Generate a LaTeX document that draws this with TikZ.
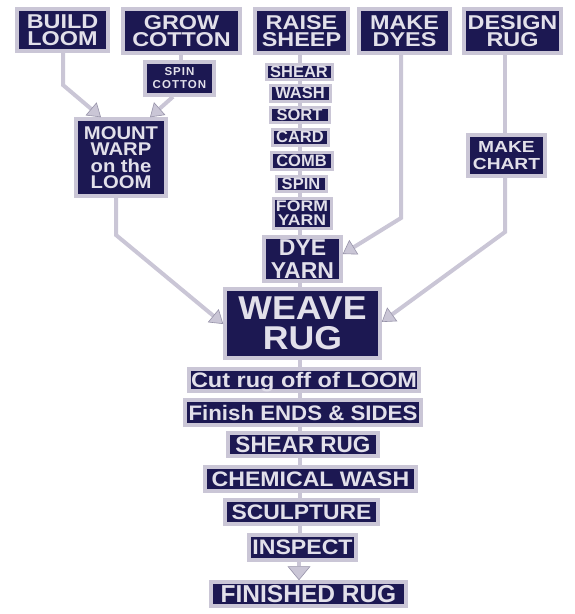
\documentclass[tikz,border=0pt]{standalone}
\usepackage{fontspec}
\setmainfont{Liberation Sans}
\usetikzlibrary{arrows.meta}
\definecolor{navy}{RGB}{28,24,82}
\definecolor{lav}{RGB}{202,198,214}
\definecolor{lavdark}{RGB}{150,146,168}
\definecolor{txt}{RGB}{226,224,234}
\tikzset{
  box/.style={draw=lav, fill=navy, line width=3.5pt, inner sep=0pt, text=txt, align=center},
  link/.style={draw=lav, line width=4pt},
  arr/.style={link, -{Triangle[width=17pt,length=13pt,fill=lav,color=lavdark,line width=0.6pt]}},
}
\newcommand\fs[2]{\fontsize{#1}{#2}\selectfont}
\newcommand\st[1]{\addfontfeatures{FakeStretch=#1}}
% name, x1, y1, x2, y2, font, text
\newcommand\bnode[7]{\node[box, font={\bfseries#6}, minimum width={#4-#2}, minimum height={#5-#3}] (#1) at ({(#2+#4)/2},{(#3+#5)/2}) {#7};}
\begin{document}
\begin{tikzpicture}[x=1pt,y=-1pt]
\useasboundingbox (0,0) rectangle (575,614);
% top row
\bnode{build}{17}{9}{108}{51}{\fs{20}{17.5}\st{1.17}}{BUILD\\LOOM}
\bnode{grow}{123}{9}{240}{53}{\fs{20}{17.5}\st{1.17}}{GROW\\COTTON}
\bnode{raise}{255}{9}{348}{53}{\fs{20}{17.5}\st{1.17}}{RAISE\\SHEEP}
\bnode{dyes}{359}{9}{450}{53}{\fs{20}{17.5}\st{1.17}}{MAKE\\DYES}
\bnode{design}{464}{9}{561}{53}{\fs{20}{17.5}\st{1.17}}{DESIGN\\RUG}
% left branch
\bnode{spincot}{145}{62}{214}{95}{\fs{11.5}{13}\addfontfeatures{LetterSpace=9}}{SPIN\\COTTON}
\bnode{mount}{76}{119}{166}{196}{\fs{18.4}{16.5}\st{1.1}}{MOUNT\\WARP\\on the\\LOOM}
% sheep column
\begin{scope}[box/.append style={line width=3pt}]
\bnode{shear}{266}{64}{332}{79}{\fs{16.5}{16}}{SHEAR}
\bnode{wash}{270}{85}{330}{101}{\fs{16.5}{16}}{WASH}
\bnode{sort}{270}{107}{329}{122}{\fs{16.5}{16}}{SORT}
\bnode{card}{272}{129}{328}{145}{\fs{16.5}{16}}{CARD}
\bnode{comb}{271}{152}{332}{169}{\fs{16.5}{16}}{COMB}
\bnode{spin}{276}{176}{326}{191}{\fs{16.5}{16}}{SPIN}
\bnode{form}{273}{198}{331}{228}{\fs{15.5}{14}\st{1.14}}{FORM\\YARN}
\end{scope}
\bnode{dye}{264}{237}{341}{281}{\fs{23}{22.5}}{DYE\\YARN}
% right branch
\bnode{chart}{468}{135}{545}{176}{\fs{16}{17}\st{1.2}}{MAKE\\CHART}
% weave and after
\bnode{weave}{225}{289}{380}{358}{\fs{33}{30.5}\st{1.08}}{WEAVE\\RUG}
\node[box, font={\bfseries\fs{21}{21}\st{1.12}}, minimum width=230, minimum height=22, text depth=0pt] (cut) at (304,380) {Cut rug off of LOOM};
\bnode{finish}{185}{400}{421}{425}{\fs{21}{21}\st{1.06}}{Finish ENDS \& SIDES}
\bnode{shearrug}{228}{433}{378}{456}{\fs{22.5}{22}}{SHEAR RUG}
\bnode{chem}{205}{467}{416}{491}{\fs{21}{21}\st{1.1}}{CHEMICAL WASH}
\bnode{sculpt}{225}{500}{378}{524}{\fs{21}{21}\st{1.09}}{SCULPTURE}
\bnode{inspect}{249}{535}{356}{560}{\fs{21}{21}\st{1.1}}{INSPECT}
\bnode{finished}{211}{582}{406}{606}{\fs{24.5}{24}}{FINISHED RUG}
% connectors
\draw[link] (grow.south -| 181,0) -- (spincot.north -| 181,0);
\draw[arr] (build.south -| 63,0) -- (63,85) -- (mount.north -| 101,0);
\draw[arr] (spincot.south -| 173,0) -- (mount.north -| 150,0);
\draw[arr] (mount.south -| 116,0) -- (116,235) -- (weave.west |- 0,324);
\draw[arr] (dyes.south -| 401,0) -- (401,218) -- (dye.east |- 0,254);
\draw[link] (design.south -| 505,0) -- (chart.north -| 505,0);
\draw[arr] (chart.south -| 505,0) -- (505,232) -- (weave.east |- 0,322);
\foreach \a/\b in {raise/shear,shear/wash,wash/sort,sort/card,card/comb,comb/spin,spin/form,form/dye,dye/weave,weave/cut,cut/finish,finish/shearrug,shearrug/chem,chem/sculpt,sculpt/inspect}
  \draw[link] (\a.south -| 300,0) -- (\b.north -| 300,0);
\draw[link, -{Triangle[width=23pt,length=14pt,fill=lav,color=lavdark,line width=0.6pt]}] (inspect.south -| 299,0) -- (finished.north -| 299,0);
\end{tikzpicture}
\end{document}
